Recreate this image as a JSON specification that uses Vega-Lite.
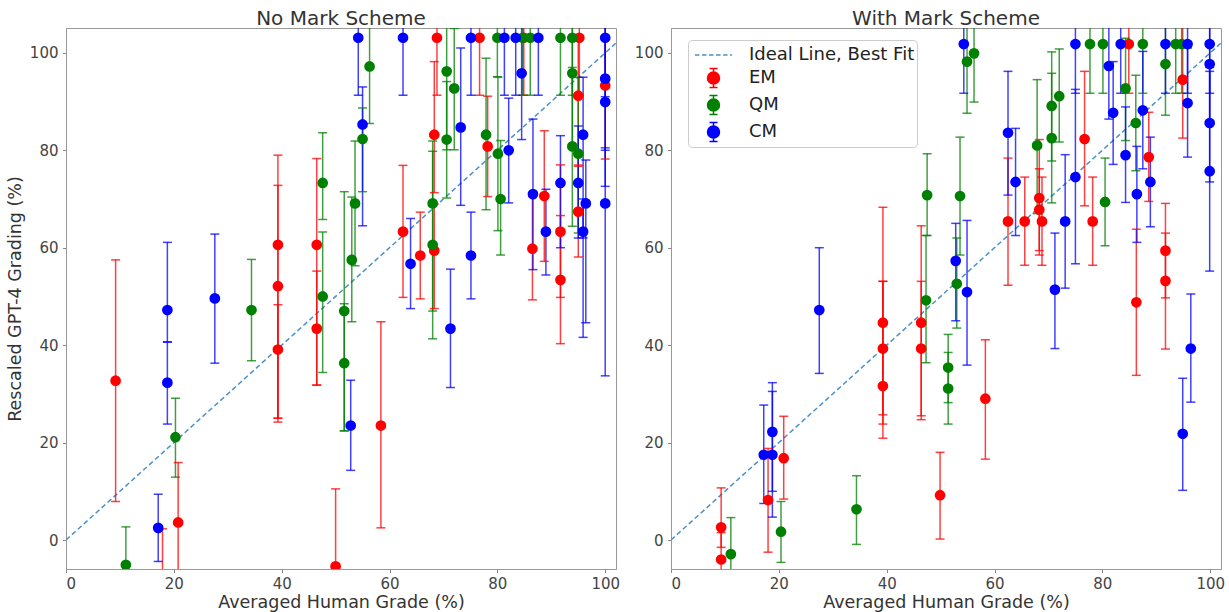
{
  "$schema": "https://vega.github.io/schema/vega-lite/v6.json",
  "padding": {"left": 5, "top": 8, "right": 5, "bottom": 0},
  "background": "white",
  "config": {
    "font": "DejaVu Sans",
    "view": {"stroke": "#999", "strokeWidth": 1},
    "axis": {"grid": false, "tickColor": "#888", "domainColor": "#999", "labelFont": "DejaVu Sans", "labelFontSize": 15, "labelColor": "#444", "titleFont": "DejaVu Sans", "titleFontSize": 17.5, "titleColor": "#333", "titleFontWeight": "normal", "tickSize": 3.5},
    "axisX": {"labelPadding": 4, "titlePadding": 2},
    "axisY": {"labelPadding": 4.5, "titlePadding": 5},
    "title": {"font": "DejaVu Sans", "fontSize": 20, "fontWeight": "normal", "color": "#333", "offset": -1}
  },
  "datasets": {
    "ideal": [{"x": 0, "y": 0}, {"x": 102, "y": 102}],
    "leg": [{"entry": "Ideal Line, Best Fit"}, {"entry": "EM"}, {"entry": "QM"}, {"entry": "CM"}],
    "L": [
      {"g":"EM","x":9.2,"y":32.7,"lo":7.9,"hi":57.5},
      {"g":"EM","x":17.9,"y":-10,"lo":-20,"hi":2.3},
      {"g":"EM","x":20.8,"y":3.6,"lo":-12,"hi":15.9},
      {"g":"EM","x":39.3,"y":60.6,"lo":24.2,"hi":79.0},
      {"g":"EM","x":39.3,"y":52.1,"lo":25.0,"hi":72.8},
      {"g":"EM","x":39.3,"y":39.1,"lo":25.0,"hi":48.3},
      {"g":"EM","x":46.5,"y":60.6,"lo":31.8,"hi":78.3},
      {"g":"EM","x":46.5,"y":43.4,"lo":31.8,"hi":55.2},
      {"g":"EM","x":50.0,"y":-5.4,"lo":-15,"hi":10.5},
      {"g":"EM","x":58.4,"y":23.5,"lo":2.5,"hi":44.8},
      {"g":"EM","x":62.5,"y":63.3,"lo":49.8,"hi":76.9},
      {"g":"EM","x":65.7,"y":58.4,"lo":49.5,"hi":67.3},
      {"g":"EM","x":68.3,"y":83.2,"lo":71.3,"hi":98.2},
      {"g":"EM","x":68.3,"y":59.4,"lo":47.5,"hi":69.0},
      {"g":"EM","x":68.8,"y":103.1,"lo":91.3,"hi":115},
      {"g":"EM","x":76.7,"y":103.1,"lo":91.3,"hi":115},
      {"g":"EM","x":78.2,"y":80.8,"lo":70.5,"hi":91.1},
      {"g":"EM","x":84.9,"y":103.1,"lo":91.3,"hi":115},
      {"g":"EM","x":86.5,"y":59.8,"lo":49.3,"hi":70.5},
      {"g":"EM","x":88.7,"y":70.6,"lo":57.2,"hi":84.0},
      {"g":"EM","x":91.7,"y":63.3,"lo":49.8,"hi":77.0},
      {"g":"EM","x":91.7,"y":53.4,"lo":40.3,"hi":66.6},
      {"g":"EM","x":95.0,"y":91.2,"lo":76.7,"hi":103},
      {"g":"EM","x":95.0,"y":67.4,"lo":58.1,"hi":77},
      {"g":"EM","x":95.2,"y":103.1,"lo":91.3,"hi":115},
      {"g":"EM","x":100,"y":93.3,"lo":78.2,"hi":108},
      {"g":"QM","x":11.1,"y":-5.1,"lo":-15,"hi":2.7},
      {"g":"QM","x":20.3,"y":21.1,"lo":12.9,"hi":29.1},
      {"g":"QM","x":34.4,"y":47.2,"lo":36.8,"hi":57.6},
      {"g":"QM","x":47.6,"y":73.3,"lo":65.8,"hi":83.6},
      {"g":"QM","x":47.6,"y":50.0,"lo":34.4,"hi":63.2},
      {"g":"QM","x":51.6,"y":47.0,"lo":22.4,"hi":71.5},
      {"g":"QM","x":51.6,"y":36.3,"lo":22.4,"hi":48.5},
      {"g":"QM","x":53.0,"y":57.5,"lo":44.8,"hi":70.4},
      {"g":"QM","x":53.6,"y":69.1,"lo":56.3,"hi":81.9},
      {"g":"QM","x":55.0,"y":82.3,"lo":71.5,"hi":88.7},
      {"g":"QM","x":56.3,"y":97.2,"lo":85.5,"hi":110},
      {"g":"QM","x":68.0,"y":69.1,"lo":41.3,"hi":81.9},
      {"g":"QM","x":68.0,"y":60.6,"lo":47.0,"hi":79.8},
      {"g":"QM","x":70.6,"y":96.2,"lo":80.1,"hi":110},
      {"g":"QM","x":70.6,"y":82.2,"lo":70.2,"hi":94.1},
      {"g":"QM","x":72.0,"y":92.7,"lo":80.1,"hi":105},
      {"g":"QM","x":77.9,"y":83.2,"lo":67.8,"hi":98.9},
      {"g":"QM","x":80.0,"y":103.1,"lo":95.1,"hi":115},
      {"g":"QM","x":80.1,"y":79.3,"lo":63.5,"hi":95},
      {"g":"QM","x":80.6,"y":70.0,"lo":58.5,"hi":82},
      {"g":"QM","x":84.7,"y":103.1,"lo":91.3,"hi":115},
      {"g":"QM","x":86.1,"y":103.1,"lo":91.3,"hi":115},
      {"g":"QM","x":91.7,"y":103.1,"lo":91.3,"hi":115},
      {"g":"QM","x":93.9,"y":103.1,"lo":91.3,"hi":115},
      {"g":"QM","x":93.9,"y":95.8,"lo":80.8,"hi":110},
      {"g":"QM","x":93.9,"y":80.8,"lo":64.4,"hi":97},
      {"g":"QM","x":95.0,"y":79.3,"lo":63.0,"hi":95},
      {"g":"CM","x":17.1,"y":2.5,"lo":-4.4,"hi":9.4},
      {"g":"CM","x":18.8,"y":47.2,"lo":40.7,"hi":61.1},
      {"g":"CM","x":18.8,"y":32.3,"lo":23.8,"hi":40.6},
      {"g":"CM","x":27.6,"y":49.6,"lo":36.3,"hi":62.8},
      {"g":"CM","x":52.8,"y":23.5,"lo":14.3,"hi":32.8},
      {"g":"CM","x":54.2,"y":103.1,"lo":91.3,"hi":115},
      {"g":"CM","x":55.0,"y":85.3,"lo":64.5,"hi":93},
      {"g":"CM","x":62.5,"y":103.1,"lo":91.3,"hi":115},
      {"g":"CM","x":63.9,"y":56.7,"lo":47.5,"hi":66.0},
      {"g":"CM","x":71.3,"y":43.4,"lo":31.3,"hi":55.6},
      {"g":"CM","x":73.2,"y":84.7,"lo":68.7,"hi":101},
      {"g":"CM","x":75.1,"y":103.1,"lo":91.3,"hi":115},
      {"g":"CM","x":75.1,"y":58.4,"lo":49.5,"hi":67.3},
      {"g":"CM","x":81.3,"y":103.1,"lo":91.3,"hi":115},
      {"g":"CM","x":82.1,"y":80.0,"lo":69.2,"hi":90.7},
      {"g":"CM","x":83.4,"y":103.1,"lo":91.3,"hi":115},
      {"g":"CM","x":84.5,"y":95.8,"lo":82.2,"hi":108},
      {"g":"CM","x":86.6,"y":71.0,"lo":55.5,"hi":86.4},
      {"g":"CM","x":87.6,"y":103.1,"lo":91.3,"hi":115},
      {"g":"CM","x":89.0,"y":63.3,"lo":54.4,"hi":72},
      {"g":"CM","x":91.7,"y":73.3,"lo":60,"hi":83},
      {"g":"CM","x":95.0,"y":73.3,"lo":62,"hi":85},
      {"g":"CM","x":95.9,"y":83.2,"lo":62.0,"hi":95},
      {"g":"CM","x":95.9,"y":63.3,"lo":41.6,"hi":70},
      {"g":"CM","x":96.4,"y":69.1,"lo":44.6,"hi":78},
      {"g":"CM","x":100,"y":103.1,"lo":91,"hi":115},
      {"g":"CM","x":100,"y":94.7,"lo":80,"hi":108},
      {"g":"CM","x":100,"y":89.9,"lo":72.6,"hi":103},
      {"g":"CM","x":100,"y":69.1,"lo":33.7,"hi":80.5}
    ],
    "R": [
      {"g":"EM","x":9.3,"y":2.6,"lo":-1.5,"hi":10.7},
      {"g":"EM","x":9.3,"y":-4.0,"lo":-10,"hi":1.5},
      {"g":"EM","x":18.0,"y":8.2,"lo":-2.5,"hi":18.8},
      {"g":"EM","x":20.9,"y":16.8,"lo":8.4,"hi":25.4},
      {"g":"EM","x":39.3,"y":44.6,"lo":25.7,"hi":68.3},
      {"g":"EM","x":39.3,"y":39.3,"lo":23.8,"hi":53.1},
      {"g":"EM","x":39.3,"y":31.6,"lo":20.9,"hi":53.1},
      {"g":"EM","x":46.4,"y":44.6,"lo":25.5,"hi":64.5},
      {"g":"EM","x":46.4,"y":39.3,"lo":24.7,"hi":53.1},
      {"g":"EM","x":49.9,"y":9.2,"lo":0.2,"hi":18.0},
      {"g":"EM","x":58.3,"y":29.0,"lo":16.6,"hi":41.1},
      {"g":"EM","x":62.5,"y":65.4,"lo":52.3,"hi":78.4},
      {"g":"EM","x":65.6,"y":65.4,"lo":56.4,"hi":74.5},
      {"g":"EM","x":68.3,"y":70.2,"lo":59.4,"hi":82.2},
      {"g":"EM","x":68.3,"y":67.8,"lo":58.5,"hi":76.2},
      {"g":"EM","x":68.8,"y":65.4,"lo":56.4,"hi":74.5},
      {"g":"EM","x":76.7,"y":82.3,"lo":68.6,"hi":96.2},
      {"g":"EM","x":78.2,"y":65.4,"lo":56.4,"hi":74.5},
      {"g":"EM","x":84.9,"y":101.8,"lo":91.7,"hi":115},
      {"g":"EM","x":86.3,"y":48.8,"lo":33.8,"hi":63.8},
      {"g":"EM","x":88.6,"y":78.6,"lo":69.5,"hi":87.8},
      {"g":"EM","x":91.7,"y":59.4,"lo":49.7,"hi":69.1},
      {"g":"EM","x":91.7,"y":53.2,"lo":39.2,"hi":63.0},
      {"g":"EM","x":94.9,"y":94.5,"lo":82.5,"hi":106},
      {"g":"QM","x":11.1,"y":-2.9,"lo":-10,"hi":4.6},
      {"g":"QM","x":20.4,"y":1.7,"lo":-4.6,"hi":7.9},
      {"g":"QM","x":34.4,"y":6.3,"lo":-0.9,"hi":13.2},
      {"g":"QM","x":47.3,"y":49.2,"lo":36.4,"hi":62.5},
      {"g":"QM","x":47.5,"y":70.8,"lo":62.5,"hi":79.3},
      {"g":"QM","x":51.4,"y":35.4,"lo":28.2,"hi":42.2},
      {"g":"QM","x":51.4,"y":31.1,"lo":23.8,"hi":38.5},
      {"g":"QM","x":53.0,"y":52.6,"lo":43.5,"hi":62},
      {"g":"QM","x":53.6,"y":70.6,"lo":58.5,"hi":82.7},
      {"g":"QM","x":54.9,"y":98.2,"lo":87.6,"hi":110},
      {"g":"QM","x":56.2,"y":99.9,"lo":89.9,"hi":110},
      {"g":"QM","x":67.9,"y":81.0,"lo":67,"hi":94.5},
      {"g":"QM","x":70.6,"y":89.1,"lo":77.8,"hi":100.2},
      {"g":"QM","x":70.6,"y":82.5,"lo":69.2,"hi":95.8},
      {"g":"QM","x":72.0,"y":91.1,"lo":81.7,"hi":100.8},
      {"g":"QM","x":77.7,"y":101.8,"lo":91.7,"hi":115},
      {"g":"QM","x":80.1,"y":101.8,"lo":91.7,"hi":115},
      {"g":"QM","x":80.5,"y":69.4,"lo":60.4,"hi":78.4},
      {"g":"QM","x":84.3,"y":92.7,"lo":82,"hi":103},
      {"g":"QM","x":86.2,"y":85.6,"lo":75.8,"hi":95.4},
      {"g":"QM","x":87.5,"y":101.8,"lo":91.7,"hi":115},
      {"g":"QM","x":91.7,"y":97.7,"lo":87.2,"hi":110},
      {"g":"QM","x":93.6,"y":101.8,"lo":91.7,"hi":115},
      {"g":"QM","x":94.7,"y":101.8,"lo":91.7,"hi":115},
      {"g":"CM","x":17.2,"y":17.5,"lo":7.5,"hi":27.7},
      {"g":"CM","x":18.8,"y":17.5,"lo":10,"hi":30.5},
      {"g":"CM","x":18.8,"y":22.2,"lo":4.7,"hi":32.3},
      {"g":"CM","x":27.5,"y":47.2,"lo":34.2,"hi":60.0},
      {"g":"CM","x":52.8,"y":57.3,"lo":45,"hi":65},
      {"g":"CM","x":54.3,"y":101.8,"lo":91.7,"hi":115},
      {"g":"CM","x":54.9,"y":50.9,"lo":35.9,"hi":65.6},
      {"g":"CM","x":62.5,"y":83.6,"lo":70.8,"hi":96.2},
      {"g":"CM","x":63.9,"y":73.5,"lo":62.5,"hi":84.5},
      {"g":"CM","x":71.2,"y":51.4,"lo":39.3,"hi":63},
      {"g":"CM","x":73.1,"y":65.4,"lo":51.7,"hi":79.1},
      {"g":"CM","x":75.0,"y":74.5,"lo":56.7,"hi":92.5},
      {"g":"CM","x":75.0,"y":101.8,"lo":91.7,"hi":115},
      {"g":"CM","x":81.2,"y":97.3,"lo":86.4,"hi":110},
      {"g":"CM","x":82.0,"y":87.7,"lo":77.1,"hi":98.2},
      {"g":"CM","x":83.4,"y":101.8,"lo":91.7,"hi":115},
      {"g":"CM","x":84.3,"y":79.0,"lo":69.3,"hi":88.9},
      {"g":"CM","x":86.4,"y":71.0,"lo":61.1,"hi":80.8},
      {"g":"CM","x":87.5,"y":88.2,"lo":76.2,"hi":100.3},
      {"g":"CM","x":88.9,"y":73.5,"lo":64.3,"hi":82.7},
      {"g":"CM","x":91.7,"y":101.8,"lo":91.7,"hi":115},
      {"g":"CM","x":94.9,"y":21.8,"lo":10.2,"hi":33.2},
      {"g":"CM","x":95.8,"y":101.8,"lo":91.7,"hi":115},
      {"g":"CM","x":95.8,"y":89.7,"lo":78.6,"hi":101},
      {"g":"CM","x":96.4,"y":39.3,"lo":28.3,"hi":50.5},
      {"g":"CM","x":99.9,"y":101.8,"lo":91.7,"hi":115},
      {"g":"CM","x":99.9,"y":97.7,"lo":86,"hi":110},
      {"g":"CM","x":99.9,"y":85.6,"lo":73.5,"hi":97},
      {"g":"CM","x":99.9,"y":75.7,"lo":55.2,"hi":96.2}
    ]
  },
  "hconcat": [
    {
      "width": 550,
      "height": 541,
      "title": "No Mark Scheme",
      "layer": [
        {
          "data": {"name": "ideal"},
          "mark": {"type": "line", "color": "#4b92c8", "strokeWidth": 1.5, "strokeDash": [5, 3], "clip": true},
          "encoding": {
            "x": {"field": "x", "type": "quantitative", "scale": {"domain": [0, 102], "nice": false, "zero": false}, "axis": {"values": [0, 20, 40, 60, 80, 100], "title": "Averaged Human Grade (%)"}},
            "y": {"field": "y", "type": "quantitative", "scale": {"domain": [-5.95, 105.1], "nice": false, "zero": false}, "axis": {"values": [0, 20, 40, 60, 80, 100], "title": "Rescaled GPT-4 Grading (%)"}}
          }
        },
        {
          "data": {"name": "L"},
          "mark": {"type": "rule", "strokeWidth": 1.5, "opacity": 0.75, "clip": true},
          "encoding": {
            "x": {"field": "x", "type": "quantitative"},
            "y": {"field": "lo", "type": "quantitative"},
            "y2": {"field": "hi"},
            "color": {"field": "g", "type": "nominal", "scale": {"domain": ["EM", "QM", "CM"], "range": ["#ff0000", "#008000", "#0000ff"]}, "legend": null}
          }
        },
        {
          "data": {"name": "L"},
          "mark": {"type": "tick", "orient": "horizontal", "size": 9, "thickness": 1.5, "opacity": 0.75, "clip": true},
          "encoding": {
            "x": {"field": "x", "type": "quantitative"},
            "y": {"field": "lo", "type": "quantitative"},
            "color": {"field": "g", "type": "nominal", "legend": null}
          }
        },
        {
          "data": {"name": "L"},
          "mark": {"type": "tick", "orient": "horizontal", "size": 9, "thickness": 1.5, "opacity": 0.75, "clip": true},
          "encoding": {
            "x": {"field": "x", "type": "quantitative"},
            "y": {"field": "hi", "type": "quantitative"},
            "color": {"field": "g", "type": "nominal", "legend": null}
          }
        },
        {
          "data": {"name": "L"},
          "mark": {"type": "point", "filled": true, "size": 115, "opacity": 1, "clip": true},
          "encoding": {
            "x": {"field": "x", "type": "quantitative"},
            "y": {"field": "y", "type": "quantitative"},
            "color": {"field": "g", "type": "nominal", "legend": null}
          }
        }
      ]
    },
    {
      "width": 550,
      "height": 541,
      "title": "With Mark Scheme",
      "layer": [
        {
          "data": {"name": "ideal"},
          "mark": {"type": "line", "color": "#4b92c8", "strokeWidth": 1.5, "strokeDash": [5, 3], "clip": true},
          "encoding": {
            "x": {"field": "x", "type": "quantitative", "scale": {"domain": [0, 102], "nice": false, "zero": false}, "axis": {"values": [0, 20, 40, 60, 80, 100], "title": "Averaged Human Grade (%)"}},
            "y": {"field": "y", "type": "quantitative", "scale": {"domain": [-5.95, 105.1], "nice": false, "zero": false}, "axis": {"values": [0, 20, 40, 60, 80, 100], "title": null}}
          }
        },
        {
          "data": {"name": "R"},
          "mark": {"type": "rule", "strokeWidth": 1.5, "opacity": 0.75, "clip": true},
          "encoding": {
            "x": {"field": "x", "type": "quantitative"},
            "y": {"field": "lo", "type": "quantitative"},
            "y2": {"field": "hi"},
            "color": {"field": "g", "type": "nominal", "scale": {"domain": ["EM", "QM", "CM"], "range": ["#ff0000", "#008000", "#0000ff"]}, "legend": null}
          }
        },
        {
          "data": {"name": "R"},
          "mark": {"type": "tick", "orient": "horizontal", "size": 9, "thickness": 1.5, "opacity": 0.75, "clip": true},
          "encoding": {
            "x": {"field": "x", "type": "quantitative"},
            "y": {"field": "lo", "type": "quantitative"},
            "color": {"field": "g", "type": "nominal", "legend": null}
          }
        },
        {
          "data": {"name": "R"},
          "mark": {"type": "tick", "orient": "horizontal", "size": 9, "thickness": 1.5, "opacity": 0.75, "clip": true},
          "encoding": {
            "x": {"field": "x", "type": "quantitative"},
            "y": {"field": "hi", "type": "quantitative"},
            "color": {"field": "g", "type": "nominal", "legend": null}
          }
        },
        {
          "data": {"name": "R"},
          "mark": {"type": "point", "filled": true, "size": 115, "opacity": 1, "clip": true},
          "encoding": {
            "x": {"field": "x", "type": "quantitative"},
            "y": {"field": "y", "type": "quantitative"},
            "color": {"field": "g", "type": "nominal", "legend": null}
          }
        },
        {
          "data": {"name": "leg"},
          "mark": {"type": "point", "opacity": 0, "strokeWidth": 1.5},
          "encoding": {
            "fill": {"field": "entry", "type": "nominal", "scale": {"domain": ["Ideal Line, Best Fit", "EM", "QM", "CM"], "range": ["#4b92c8", "#ff0000", "#008000", "#0000ff"]},
              "legend": {"title": null, "orient": "none", "legendX": 17, "legendY": 12, "symbolSize": 576, "symbolStrokeWidth": 1.5, "symbolOpacity": 1, "labelFont": "DejaVu Sans", "labelFontSize": 18, "labelColor": "#222", "labelOffset": 33, "padding": 2, "rowPadding": 1, "fillColor": "white", "strokeColor": "#ccc", "cornerRadius": 4, "labelLimit": 400}},
            "stroke": {"field": "entry", "type": "nominal", "scale": {"domain": ["Ideal Line, Best Fit", "EM", "QM", "CM"], "range": ["#4b92c8", "#ff0000", "#008000", "#0000ff"]},
              "legend": {"title": null, "orient": "none", "legendX": 17, "legendY": 12, "symbolSize": 576, "symbolStrokeWidth": 1.5, "symbolOpacity": 1, "labelFont": "DejaVu Sans", "labelFontSize": 18, "labelColor": "#222", "labelOffset": 33, "padding": 2, "rowPadding": 1, "fillColor": "white", "strokeColor": "#ccc", "cornerRadius": 4, "labelLimit": 400}},
            "shape": {"field": "entry", "type": "nominal", "scale": {"domain": ["Ideal Line, Best Fit", "EM", "QM", "CM"], "range": [
                "M-0.667,0H-0.292M-0.082,0H0.293M0.503,0H0.878M1.088,0H1.463M1.673,0H2.048M2.258,0H2.42",
                "M0.875,-0.79V0.79M0.54,-0.79H1.21M0.54,0.79H1.21M1.375,0A0.5,0.5,0,1,1,0.375,0A0.5,0.5,0,1,1,1.375,0Z",
                "M0.875,-0.79V0.79M0.54,-0.79H1.21M0.54,0.79H1.21M1.375,0A0.5,0.5,0,1,1,0.375,0A0.5,0.5,0,1,1,1.375,0Z",
                "M0.875,-0.79V0.79M0.54,-0.79H1.21M0.54,0.79H1.21M1.375,0A0.5,0.5,0,1,1,0.375,0A0.5,0.5,0,1,1,1.375,0Z"
              ]},
              "legend": {"title": null, "orient": "none", "legendX": 17, "legendY": 12, "symbolSize": 576, "symbolStrokeWidth": 1.5, "symbolOpacity": 1, "labelFont": "DejaVu Sans", "labelFontSize": 18, "labelColor": "#222", "labelOffset": 33, "padding": 2, "rowPadding": 1, "fillColor": "white", "strokeColor": "#ccc", "cornerRadius": 4, "labelLimit": 400}}
          }
        }
      ]
    }
  ],
  "spacing": 55,
  "bounds": "flush",
  "resolve": {
    "scale": {"color": "independent", "fill": "independent", "stroke": "independent", "shape": "independent", "x": "independent", "y": "independent"},
    "legend": {"color": "independent", "fill": "independent", "stroke": "independent", "shape": "independent"}
  }
}
